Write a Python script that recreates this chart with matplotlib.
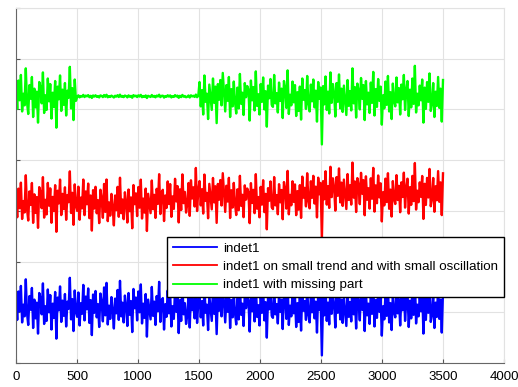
import numpy as np
import matplotlib
matplotlib.use("Agg")
import matplotlib.pyplot as plt

# base signal, one sample every ~10 steps
indet1 = [
    0.12, -0.25, 0.31, -0.08, 0.42, -0.30, 0.05, -0.18, 0.55, -0.12,
    -0.35, 0.22, -0.05, 0.38, -0.41, 0.15, -0.22, 0.09, -0.52, 0.28,
    0.18, -0.14, 0.47, -0.33, 0.02, -0.27, 0.35, -0.10, 0.24, -0.44,
    0.07, -0.21, 0.30, -0.62, 0.19, -0.06, 0.41, -0.29, 0.13, -0.17,
    0.26, -0.38, 0.11, -0.03, 0.58, -0.24, 0.16, -0.47, 0.33, -0.09,
    -0.19, 0.29, -0.36, 0.08, -0.13, 0.44, -0.26, 0.21, -0.04, 0.37,
    -0.31, 0.14, -0.55, 0.25, -0.11, 0.32, -0.20, 0.06, -0.39, 0.27,
    0.10, -0.28, 0.39, -0.16, 0.48, -0.34, 0.03, -0.23, 0.20, -0.07,
    -0.42, 0.17, -0.12, 0.34, -0.25, 0.52, -0.18, 0.09, -0.30, 0.23,
    0.04, -0.37, 0.28, -0.15, 0.12, -0.49, 0.36, -0.02, 0.19, -0.26,
    0.31, -0.10, 0.45, -0.32, 0.07, -0.21, 0.26, -0.58, 0.15, -0.05,
    -0.24, 0.40, -0.17, 0.11, -0.35, 0.22, -0.08, 0.50, -0.29, 0.13,
    0.18, -0.44, 0.06, -0.19, 0.33, -0.12, 0.27, -0.38, 0.02, -0.23,
    0.36, -0.09, 0.21, -0.51, 0.14, -0.27, 0.43, -0.14, 0.08, -0.33,
    -0.16, 0.25, -0.40, 0.30, -0.06, 0.16, -0.22, 0.54, -0.31, 0.10,
    0.28, -0.20, 0.12, -0.36, 0.41, -0.11, 0.05, -0.45, 0.23, -0.03,
    -0.27, 0.35, -0.13, 0.19, -0.53, 0.24, -0.07, 0.32, -0.18, 0.46,
    0.09, -0.30, 0.22, -0.09, 0.38, -0.41, 0.14, -0.20, 0.29, -0.12,
    -0.34, 0.17, -0.24, 0.44, -0.15, 0.07, -0.37, 0.26, -0.02, 0.20,
    0.13, -0.48, 0.31, -0.08, 0.18, -0.28, 0.49, -0.19, 0.04, -0.36,
    0.24, -0.11, 0.37, -0.26, 0.10, -0.60, 0.21, -0.04, 0.34, -0.17,
    -0.21, 0.42, -0.14, 0.06, -0.32, 0.27, -0.09, 0.15, -0.43, 0.30,
    0.16, -0.23, 0.51, -0.35, 0.03, -0.18, 0.29, -0.12, 0.22, -0.39,
    0.08, -0.29, 0.19, -0.46, 0.35, -0.07, 0.12, -0.25, 0.40, -0.15,
    -0.30, 0.23, -0.10, 0.33, -0.22, 0.11, -0.50, 0.28, -0.05, 0.17,
    -0.95, 0.20, -0.16, 0.39, -0.27, 0.09, -0.34, 0.47, -0.13, 0.24,
    0.06, -0.40, 0.26, -0.11, 0.43, -0.24, 0.15, -0.31, 0.21, -0.08,
    -0.37, 0.32, -0.19, 0.10, -0.28, 0.55, -0.14, 0.18, -0.42, 0.25,
    0.11, -0.26, 0.36, -0.05, 0.22, -0.47, 0.30, -0.16, 0.07, -0.33,
    0.27, -0.13, 0.48, -0.38, 0.14, -0.21, 0.34, -0.09, 0.19, -0.56,
    0.02, -0.24, 0.29, -0.17, 0.40, -0.30, 0.08, -0.45, 0.25, -0.10,
    -0.20, 0.37, -0.12, 0.16, -0.36, 0.23, -0.06, 0.42, -0.27, 0.12,
    0.30, -0.39, 0.13, -0.22, 0.35, -0.15, 0.60, -0.32, 0.05, -0.18,
    0.21, -0.08, 0.33, -0.52, 0.17, -0.25, 0.28, -0.11, 0.45, -0.29,
    -0.14, 0.26, -0.41, 0.09, -0.19, 0.38, -0.23, 0.15, -0.50, 0.32,
]

labels = ["indet1",
          "indet1 on small trend and with small oscillation",
          "indet1 with missing part"]

# vertical placement of each series
blue_level = 1.1
red_level = 3.12
green_level = 5.26

trend_rise = 0.3      # total rise over the record
osc_amp = 0.06
osc_periods = 3
gap_start, gap_end = 500, 1500

xticks = [0, 500, 1000, 1500, 2000, 2500, 3000, 3500, 4000]

sig = np.array(indet1)
t = np.linspace(0, 3500, len(sig))

blue = sig + blue_level
red = sig + red_level + trend_rise * t / t[-1] + osc_amp * np.sin(2 * np.pi * osc_periods * t / t[-1])
green = sig + green_level
gap = (t >= gap_start) & (t <= gap_end)
green[gap] = green_level + 0.06 * sig[gap]

plt.rcParams["font.family"] = ["Liberation Sans", "DejaVu Sans"]

fig = plt.figure(figsize=(5.18, 3.87), dpi=100)
ax = fig.add_axes([16 / 518, 24 / 387, 488 / 518, 355 / 387])

ax.plot(t, blue, color=(0, 0, 1), lw=1.7, label=labels[0])
ax.plot(t, red, color=(1, 0, 0), lw=1.7, label=labels[1])
ax.plot(t, green, color=(0, 1, 0), lw=1.7, label=labels[2])

ax.set_xlim(0, 4000)
ax.set_ylim(0, 7)
ax.set_xticks(xticks)
ax.set_yticks(range(0, 8))
ax.set_yticklabels([])
ax.tick_params(direction="in", length=3, color="#555555", labelsize=9.5, pad=6)
ax.grid(True, color="#e2e2e2", lw=0.8)
ax.set_axisbelow(True)
for side in ["left", "bottom"]:
    ax.spines[side].set_color("#666666")
for side in ["top", "right"]:
    ax.spines[side].set_color("#e2e2e2")

leg = ax.legend(loc="upper left", bbox_to_anchor=(0.31, 0.355), borderaxespad=0,
                fancybox=False, fontsize=9.6, handlelength=3.3, labelspacing=0.45,
                borderpad=0.4, handletextpad=0.5, framealpha=1)
leg.get_frame().set_edgecolor("black")
leg.get_frame().set_linewidth(1)
for line in leg.get_lines():
    line.set_linewidth(1.3)

fig.savefig("out.png", dpi=100)
